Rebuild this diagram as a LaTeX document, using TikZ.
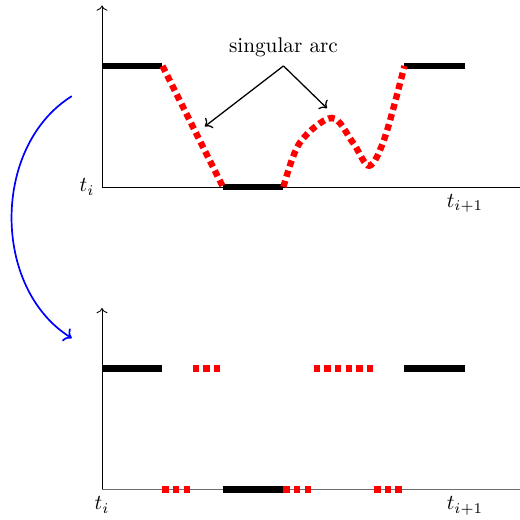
\documentclass[tikz,border=0pt]{standalone}
\usepackage{tikz}
\usetikzlibrary{arrows.meta}
\definecolor{singRed}{RGB}{255,0,0}
\definecolor{jumpBlue}{RGB}{0,0,255}
\definecolor{axGray}{RGB}{110,110,110}
\tikzset{
  AX/.style={->, black},
  BANG/.style={line width=3pt, black},
  SING/.style={line width=3pt, singRed, dotted},
  PT/.style={->, semithick, black},
  JUMP/.style={->, thick, jumpBlue},
}

\begin{document}
\begin{tikzpicture}

\useasboundingbox (-1.686,-5.5) rectangle (6.91,3.09);

%% ===================================================================
%%  Upper panel -- continuous control
%% ===================================================================

\coordinate (O1) at (0,0);
\draw[AX] (O1) -- (0,3);
\draw (O1) -- (6.91,0);
\node[left] (ti1) at (O1) {$t_i$};
\node[below] (tj1) at (6,0) {$t_{i+1}$};

\draw[BANG] (0,2) -- (1,2);
\draw[BANG] (2,0) -- (3,0);
\draw[BANG] (5,2) -- (6,2);

\draw[SING] (1,2) -- (2,0);
\draw[SING] plot[smooth, tension=0.55] coordinates
  {(3,0) (3.27,0.73) (3.8,1.14) (4.15,0.73) (4.42,0.35) (4.68,0.83) (5,2)};

\node (arcLbl) at (3,2.3) {singular arc};
\coordinate (arcRoot) at (3,2);
\coordinate (arcA) at (1.7,1.0);
\coordinate (arcB) at (3.72,1.3);
\draw[PT] (arcRoot) -- (arcA);
\draw[PT] (arcRoot) -- (arcB);

%% jump between panels
\coordinate (jTop) at (-0.5,1.5);
\coordinate (jBot) at (-0.5,-2.5);
\draw[JUMP] (jTop) to[bend right=58] (jBot);

%% ===================================================================
%%  Lower panel -- bang-bang approximation
%% ===================================================================

\coordinate (O2) at (0,-5);
\draw[AX] (O2) -- (0,-2);
\draw[axGray] (O2) -- (6.91,-5);
\node[below] (ti2) at (O2) {$t_i$};
\node[below] (tj2) at (6,-5) {$t_{i+1}$};

\draw[BANG] (0,-3) -- (1,-3);
\draw[BANG] (5,-3) -- (6,-3);
\draw[BANG] (2,-5) -- (3,-5);

\draw[SING] (1.5,-3) -- (2,-3);
\draw[SING] (3.5,-3) -- (4.5,-3);
\draw[SING] (1,-5) -- (1.5,-5);
\draw[SING] (3,-5) -- (3.5,-5);
\draw[SING] (4.5,-5) -- (5,-5);

\end{tikzpicture}
\end{document}
